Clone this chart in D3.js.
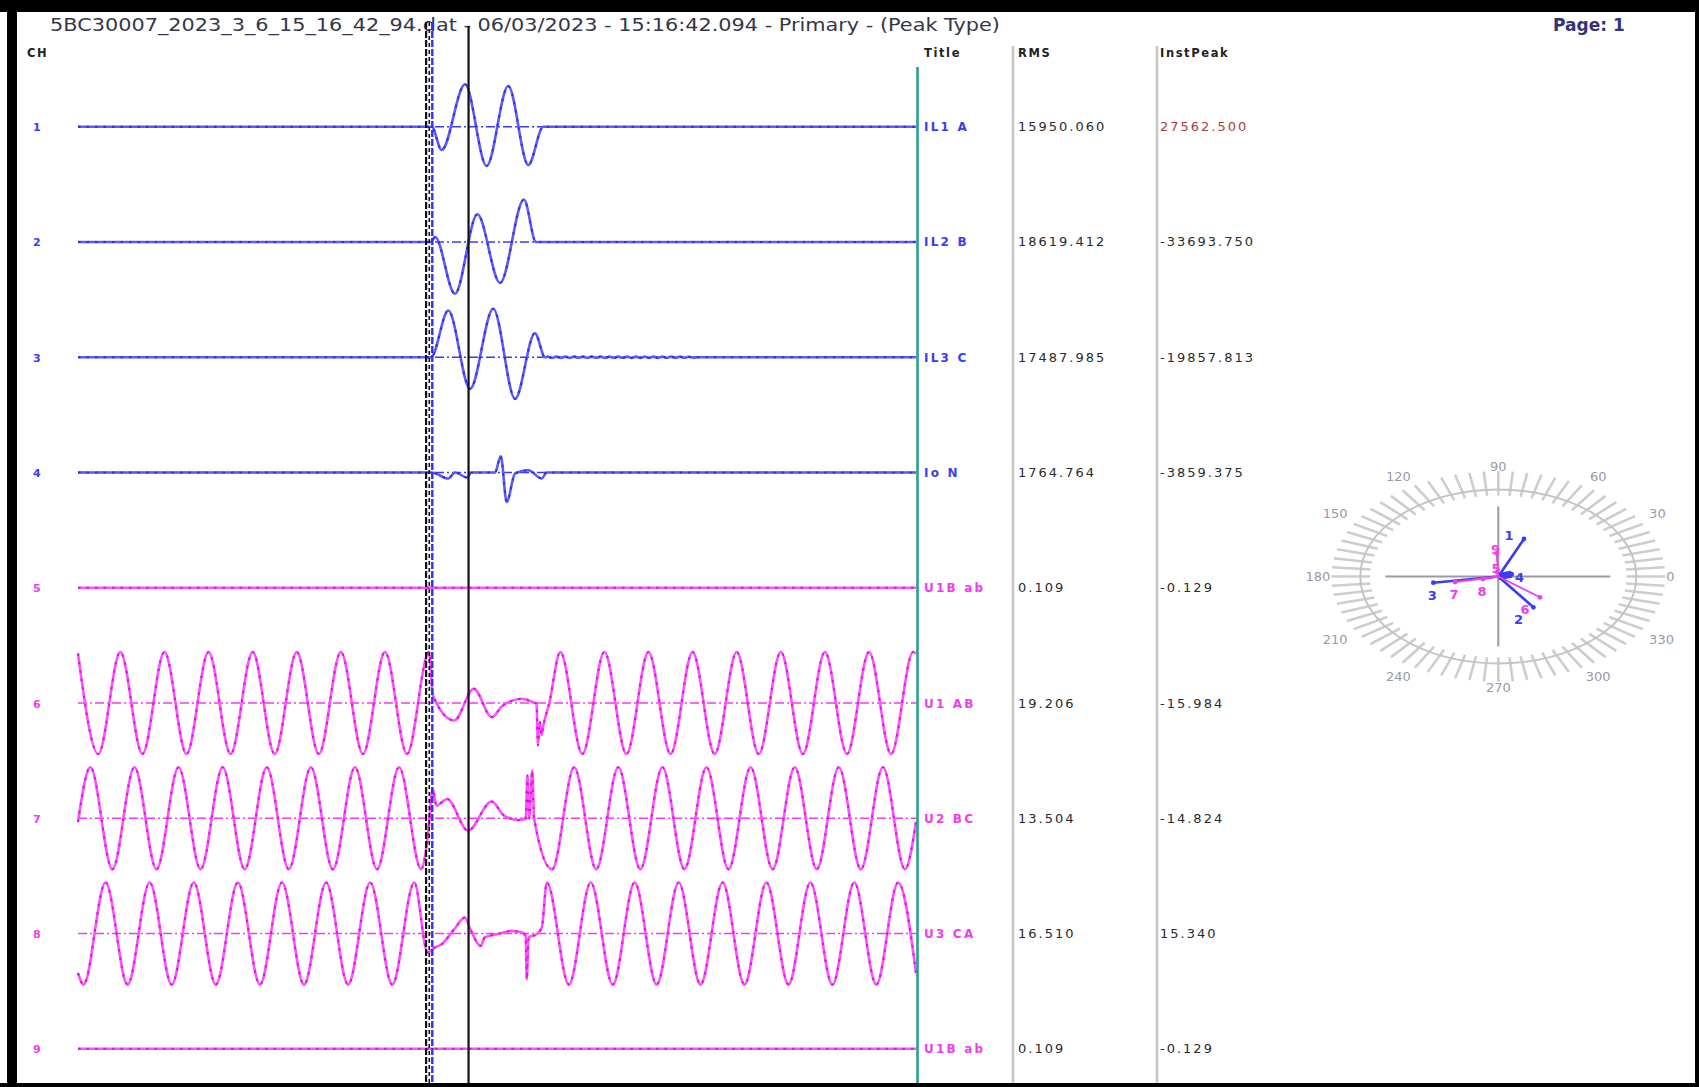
<!DOCTYPE html>
<html>
<head>
<meta charset="utf-8">
<title>5BC30007_2023_3_6_15_16_42_94.dat</title>
<script src="https://cdn.jsdelivr.net/npm/d3@7"></script>
<style>
  html, body { margin: 0; padding: 0; background: #fff; }
  svg { display: block; font-family: "DejaVu Sans", Verdana, sans-serif; }
</style>
</head>
<body>
<svg id="chart" width="1699" height="1087"></svg>
<script>
// ---- Record header ----
const recordTitle = "5BC30007_2023_3_6_15_16_42_94.dat - 06/03/2023 - 15:16:42.094 - Primary - (Peak Type)";
const pageLabel = "Page: 1";
const columnHeaders = ["CH", "Title", "RMS", "InstPeak"];

// ---- Channels ----
const channelIds = [1, 2, 3, 4, 5, 6, 7, 8, 9];
const channelTitles = ["IL1 A", "IL2 B", "IL3 C", "Io N", "U1B ab", "U1 AB", "U2 BC", "U3 CA", "U1B ab"];
const channelKinds = ["I", "I", "I", "I", "U", "U", "U", "U", "U"];
const rmsValues = ["15950.060", "18619.412", "17487.985", "1764.764", "0.109", "19.206", "13.504", "16.510", "0.109"];
const instPeakValues = ["27562.500", "-33693.750", "-19857.813", "-3859.375", "-0.129", "-15.984", "-14.824", "15.340", "-0.129"];
// value shown at the full half-height of each channel strip (A or kV)
const fullScale = [33800, 33800, 24800, 6830, 1, 27.7, 27.7, 27.7, 1];

// Record length (ms) and cursor positions (ms)
const timeDomain = [0, 380];
const cursorTimes = [158.3, 177.1];

// ---- Samples: [time ms, value] (A for currents, kV for voltages) ----
const ch1 = [[0, 0], [160.4, 0], [164.9, -15150], [175.5, 27562.5], [185.3, -25550], [195.1, 26450],
  [204.2, -24900], [211.0, 0], [380, 0]];
const ch2 = [[0, 0], [160.1, 0], [161.9, 3250], [170.9, -33693.75], [181.1, 18000], [191.4, -26650],
  [202.2, 27560], [207.7, 0], [380, 0]];
const ch3Fault = [[0, 0], [160.1, 0], [167.9, 22280], [177.8, -15080], [188.3, 23090], [198.2, -19857.813],
  [207.2, 11450], [211.8, 0]];
// residual ripple after the breaker opens, sampled every 2 ms from 213 ms
const ch3TailStart = 213;
const ch3Tail = [300, -290, 310, -300, 280, -310, 300, -280, 290, -300, 310, -290, 300, -310, 280, -300,
  290, -280, 300, -310, 290, -300, 280, -290, 310, -300, 290, -280, 300, -290, 270, -260, 220, -180, 0];
const ch4 = [[0, 0], [160.4, 0], [167.9, -790], [171.0, 0], [176.3, -660], [178.5, 0], [189.1, 0],
  [191.7, 2140], [194.4, -3859.375], [198.2, -130], [204.2, 300], [210.3, -790], [212.5, 0], [380, 0]];
const ch5 = [[0, 0], [380, 0]];
const ch6 = [[0, 26.4], [9.2, -27.2], [19.2, 27.2], [29.2, -27.2], [39.2, 27.2], [49.2, -27.2], [59.2, 27.2],
  [69.2, -27.2], [79.2, 27.2], [89.2, -27.2], [99.2, 27.2], [109.2, -27.2], [119.2, 27.2], [129.2, -27.2],
  [139.2, 27.2], [149.2, -27.2], [159.2, 27.2],
  [160.9, 4.1], [170.6, -9.3], [179.5, 7.6], [187.6, -7.5], [192.4, -1.6], [201.3, 2.3], [206.2, 0.5],
  [207.9, -0.4], [208.6, -22.6], [209.4, -10], [210.2, -17], [211.0, -12], [213.7, 0],
  [218.7, 27.2], [228.7, -27.2], [238.7, 27.2], [248.7, -27.2], [258.7, 27.2], [268.7, -27.2], [278.7, 27.2],
  [288.7, -27.2], [298.7, 27.2], [308.7, -27.2], [318.7, 27.2], [328.7, -27.2], [338.7, 27.2], [348.7, -27.2],
  [358.7, 27.2], [368.7, -27.2], [378.7, 27.2], [380, 26.3]];
const ch7 = [[0, -2], [5.6, 27.2], [15.6, -27.2], [25.6, 27.2], [35.6, -27.2], [45.6, 27.2], [55.6, -27.2],
  [65.6, 27.2], [75.6, -27.2], [85.6, 27.2], [95.6, -27.2], [105.6, 27.2], [115.6, -27.2], [125.6, 27.2],
  [135.6, -27.2], [145.6, 27.2], [155.6, -27.2],
  [158.6, -10], [160.9, 15.6], [162.5, 6.8], [167.4, 10.3], [176.8, -6.6], [187.6, 8.9], [193.2, 1.4],
  [199.8, -0.9], [203.0, -0.4], [203.8, 22.8], [204.6, 0], [206.0, 25.4], [206.8, 0],
  [215, -27.2], [225, 27.2], [235, -27.2], [245, 27.2], [255, -27.2], [265, 27.2], [275, -27.2], [285, 27.2],
  [295, -27.2], [305, 27.2], [315, -27.2], [325, 27.2], [335, -27.2], [345, 27.2], [355, -27.2], [365, 27.2],
  [375, -27.2], [380, -2]];
const ch8 = [[0, -21], [2.5, -27.2], [12.5, 27.2], [22.5, -27.2], [32.5, 27.2], [42.5, -27.2], [52.5, 27.2],
  [62.5, -27.2], [72.5, 27.2], [82.5, -27.2], [92.5, 27.2], [102.5, -27.2], [112.5, 27.2], [122.5, -27.2],
  [132.5, 27.2], [142.5, -27.2], [152.5, 27.2],
  [158.5, -10], [161.7, -7.5], [164.9, -5.7], [170.6, 2.3], [175.4, 8.5], [177.9, 2.3], [182.7, -6.6],
  [184.4, -2.1], [190.0, -0.4], [196.5, 1.4], [201.3, 0.5], [203.0, -1.3], [203.5, -24.4], [204.3, -2.1],
  [207.9, -0.4], [210.3, 3.2],
  [212.6, 27.2], [222.6, -27.2], [232.5, 27.2], [242.5, -27.2], [252.4, 27.2], [262.4, -27.2], [272.4, 27.2],
  [282.3, -27.2], [292.3, 27.2], [302.2, -27.2], [312.2, 27.2], [322.2, -27.2], [332.1, 27.2], [342.1, -27.2],
  [352.0, 27.2], [362.0, -27.2], [371.9, 27.2], [380, -21]];
const ch9 = [[0, 0], [380, 0]];

// ---- Phasors (magnitude relative to dial radius, angle in degrees) ----
const phasorIds = [1, 2, 3, 4, 5, 6, 7, 8, 9];
const phasorMag = [0.47, 0.436, 0.476, 0.10, 0.05, 0.385, 0.32, 0.115, 0.267];
const phasorAngle = [66.7, 305.7, 188.6, 15, 100, 321.6, 191.4, 194.6, 92.6];
const dialLabels = [0, 30, 60, 90, 120, 150, 180, 210, 240, 270, 300, 330];

// ------------------------------------------------------------------
const W = 1699, H = 1087;
const svg = d3.select("#chart");
const colors = { I: "#3b3bf2", U: "#f03cf0" };
const traceBase = { I: "#5a5aff", U: "#ff50ff" };
const traceDots = { I: "#2020bc", U: "#c000c0" };

svg.append("rect").attr("width", W).attr("height", H).attr("fill", "#fff");

const ch3 = ch3Fault.concat(ch3Tail.map((v, i) => [ch3TailStart + 2 * i, v]), [[380, 0]]);
const traces = [ch1, ch2, ch3, ch4, ch5, ch6, ch7, ch8, ch9];

const x = d3.scaleLinear().domain(timeDomain).range([78, 916]);
const rowY = d3.scalePoint().domain(channelIds).range([126.7, 1048.8]);
const half = 52;

const waveLayer = svg.append("g");
channelIds.forEach((id, i) => {
  const kind = channelKinds[i];
  const y = d3.scaleLinear().domain([-fullScale[i], fullScale[i]]).range([rowY(id) + half, rowY(id) - half]);
  const g = waveLayer.append("g");
  // zero reference
  if (traces[i].some(d => d[1] !== 0)) {
    g.append("line")
      .attr("x1", x(timeDomain[0])).attr("x2", x(timeDomain[1]))
      .attr("y1", y(0)).attr("y2", y(0))
      .attr("stroke", colors[kind]).attr("stroke-width", 1.4)
      .attr("stroke-dasharray", "9,3,2,3");
  }
  const line = d3.line().x(d => x(d[0])).y(d => y(d[1])).curve(d3.curveMonotoneX);
  g.append("path").datum(traces[i]).attr("d", line)
    .attr("fill", "none").attr("stroke", traceBase[kind]).attr("stroke-width", 2.6)
    .attr("stroke-linejoin", "round");
  g.append("path").datum(traces[i]).attr("d", line)
    .attr("fill", "none").attr("stroke", traceDots[kind]).attr("stroke-width", 2)
    .attr("stroke-dasharray", "2.5,6").attr("opacity", 0.7);
});

// ---- Header text ----
svg.append("text").attr("x", 50).attr("y", 31)
  .attr("font-size", 18).attr("fill", "#36364a")
  .attr("textLength", 950).attr("lengthAdjust", "spacingAndGlyphs")
  .text(recordTitle);
svg.append("text").attr("x", 1553).attr("y", 31)
  .attr("font-size", 17).attr("font-weight", "bold").attr("fill", "#33337a")
  .text(pageLabel);

const headerX = [27, 924, 1018, 1160];
columnHeaders.forEach((h, i) => {
  svg.append("text").attr("x", headerX[i]).attr("y", 57)
    .attr("font-size", 11.5).attr("font-weight", "bold").attr("fill", "#222")
    .attr("letter-spacing", 1.6)
    .text(h);
});

// ---- Cursors ----
const cur = svg.append("g");
const cA = x(cursorTimes[0]);
cur.append("line").attr("x1", cA - 1).attr("x2", cA - 1).attr("y1", 22).attr("y2", 1083)
  .attr("stroke", "#111").attr("stroke-width", 2.2).attr("stroke-dasharray", "7,2");
cur.append("line").attr("x1", cA + 2.2).attr("x2", cA + 2.2).attr("y1", 22).attr("y2", 1083)
  .attr("stroke", "#111").attr("stroke-width", 1.6).attr("stroke-dasharray", "4,3");
cur.append("line").attr("x1", cA + 5.2).attr("x2", cA + 5.2).attr("y1", 22).attr("y2", 1083)
  .attr("stroke", "#3030ee").attr("stroke-width", 2.4).attr("stroke-dasharray", "7,2");
const cB = x(cursorTimes[1]);
cur.append("line").attr("x1", cB).attr("x2", cB).attr("y1", 26).attr("y2", 1083)
  .attr("stroke", "#111").attr("stroke-width", 2.2);

// ---- Table columns ----
svg.append("line").attr("x1", 917.5).attr("x2", 917.5).attr("y1", 67).attr("y2", 1083)
  .attr("stroke", "#2a9d90").attr("stroke-width", 2.6);
[1013, 1157].forEach(cx => {
  svg.append("line").attr("x1", cx).attr("x2", cx).attr("y1", 46).attr("y2", 1083)
    .attr("stroke", "#c8c8c8").attr("stroke-width", 2.6);
});

channelIds.forEach((id, i) => {
  const cy = rowY(id) + 4.5;
  const col = colors[channelKinds[i]];
  svg.append("text").attr("x", 33).attr("y", cy).attr("font-size", 11).attr("font-weight", "bold")
    .attr("fill", col).text(id);
  svg.append("text").attr("x", 924).attr("y", cy).attr("font-size", 12).attr("font-weight", "bold")
    .attr("fill", col).attr("letter-spacing", 2.2).text(channelTitles[i]);
  svg.append("text").attr("x", 1018).attr("y", cy).attr("font-size", 13).attr("fill", "#2a2a2a")
    .attr("letter-spacing", 2).text(rmsValues[i]);
  svg.append("text").attr("x", 1160).attr("y", cy).attr("font-size", 13)
    .attr("fill", i === 0 ? "#a8403a" : "#2a2a2a")
    .attr("letter-spacing", 2).text(instPeakValues[i]);
});

// ---- Phasor dial ----
const dial = { cx: 1498.3, cy: 576.5, rx: 138, ry: 87 };
const dg = svg.append("g");
const rad = a => a * Math.PI / 180;
const ticks = d3.range(0, 360, 5);
dg.selectAll("line.tick").data(ticks).join("line")
  .attr("x1", a => dial.cx + dial.rx * 0.93 * Math.cos(rad(a)))
  .attr("y1", a => dial.cy - dial.ry * 0.93 * Math.sin(rad(a)))
  .attr("x2", a => dial.cx + dial.rx * 1.21 * Math.cos(rad(a)))
  .attr("y2", a => dial.cy - dial.ry * 1.21 * Math.sin(rad(a)))
  .attr("stroke", "#cdcdcd").attr("stroke-width", 2.6);
dg.append("ellipse").attr("cx", dial.cx).attr("cy", dial.cy).attr("rx", dial.rx).attr("ry", dial.ry)
  .attr("fill", "none").attr("stroke", "#c4c4c4").attr("stroke-width", 2);
dg.append("line").attr("x1", dial.cx - 113).attr("x2", dial.cx + 112).attr("y1", dial.cy).attr("y2", dial.cy)
  .attr("stroke", "#9c9c9c").attr("stroke-width", 2);
dg.append("line").attr("x1", dial.cx).attr("x2", dial.cx).attr("y1", dial.cy - 70).attr("y2", dial.cy + 70)
  .attr("stroke", "#9c9c9c").attr("stroke-width", 2);

const sp = v => Math.sign(v) * Math.pow(Math.abs(v), 0.75);
dg.selectAll("text.dl").data(dialLabels).join("text")
  .attr("x", a => dial.cx + 168 * sp(Math.cos(rad(a))))
  .attr("y", a => dial.cy - 106 * sp(Math.sin(rad(a))))
  .attr("dy", a => { const s = Math.sin(rad(a)); return s > 0.7 ? 0 : (s < -0.7 ? 9.5 : 4.7); })
  .attr("text-anchor", a => { const c = Math.cos(rad(a)); return c > 0.6 ? "start" : (c < -0.6 ? "end" : "middle"); })
  .attr("font-size", 13).attr("fill", "#9898aa")
  .text(a => a);

phasorIds.forEach((id, i) => {
  const col = colors[channelKinds[i]];
  const c = Math.cos(rad(phasorAngle[i])), s = Math.sin(rad(phasorAngle[i]));
  const ex = dial.cx + dial.rx * phasorMag[i] * c;
  const ey = dial.cy - dial.ry * phasorMag[i] * s;
  const short = phasorMag[i] < 0.2;
  dg.append("line").attr("x1", dial.cx).attr("y1", dial.cy).attr("x2", ex).attr("y2", ey)
    .attr("stroke", col).attr("stroke-width", channelKinds[i] === "I" ? (short ? 7 : 2.6) : 1.8);
  dg.append("circle").attr("cx", ex).attr("cy", ey).attr("r", 2.4).attr("fill", col);
  let lx, ly;
  if (short && c > 0 && s > 0) { lx = ex + 8; ly = ey + 4; }
  else { lx = ex + (c > 0 ? -15 : -1); ly = ey + (s > 0 ? -3 : 13); }
  dg.append("text").attr("x", lx).attr("y", ly + 4).attr("text-anchor", "middle")
    .attr("font-size", 13).attr("font-weight", "bold").attr("fill", col).text(id);
});

// ---- Page frame ----
svg.append("rect").attr("x", 0).attr("y", 0).attr("width", W).attr("height", 12).attr("fill", "#000");
svg.append("rect").attr("x", 7).attr("y", 0).attr("width", 10).attr("height", H).attr("fill", "#000");
svg.append("rect").attr("x", 1695).attr("y", 0).attr("width", 4).attr("height", H).attr("fill", "#000");
svg.append("rect").attr("x", 0).attr("y", 1083).attr("width", W).attr("height", 4).attr("fill", "#000");
</script>
</body>
</html>
